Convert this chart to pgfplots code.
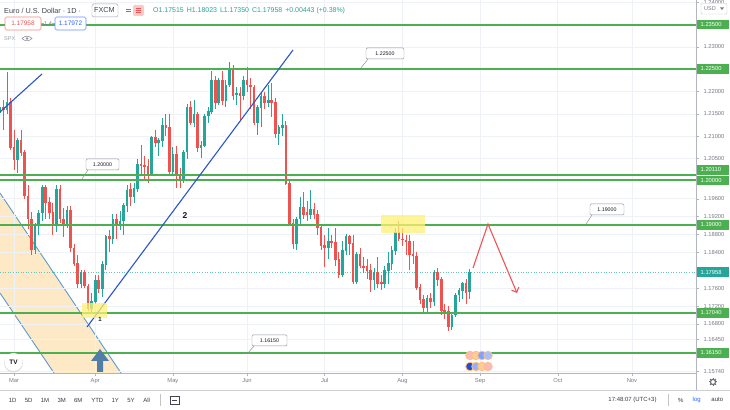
\documentclass[border=0pt]{standalone}
\usepackage{pgfplots}
\pgfplotsset{compat=1.18}
\usepackage{pgfplotstable}
\usepackage{fontspec}
\setmainfont{Liberation Sans}
\usetikzlibrary{arrows.meta,calc}
\definecolor{upc}{HTML}{26A69A}
\definecolor{dnc}{HTML}{EF5350}
\definecolor{lvl}{HTML}{4CAF50}
\definecolor{gridc}{HTML}{EEF1F6}
\definecolor{txt}{HTML}{787B86}
\definecolor{dark}{HTML}{131722}
\definecolor{trend}{HTML}{2B55C8}
\definecolor{chan}{HTML}{5B9BD5}
\definecolor{chfill}{HTML}{FDE9C6}
\definecolor{yel}{HTML}{FFF176}
\definecolor{arr}{HTML}{F05454}
\definecolor{axl}{HTML}{B2B5BE}
\definecolor{upar}{HTML}{4F7FA8}
\definecolor{tvblue}{HTML}{2962FF}
\newcommand\fs[1]{\fontsize{#1}{#1}\selectfont}

\pgfplotstableread{
x o h l c
-4 1.2152 1.2190 1.2110 1.2165
-2 1.2160 1.2243 1.2150 1.2175
1 1.2048 1.2095 1.2017 1.2090
6 1.1846 1.1905 1.1836 1.1900
7 1.1900 1.1935 1.1880 1.1928
8 1.1928 1.1990 1.1910 1.1986
12 1.1900 1.1990 1.1885 1.1980
15 1.1905 1.1945 1.1895 1.1935
19 1.1770 1.1800 1.1760 1.1795
22 1.1715 1.1750 1.1704 1.1730
23 1.1730 1.1790 1.1725 1.1778
25 1.1760 1.1820 1.1740 1.1813
26 1.1813 1.1880 1.1800 1.1875
28 1.1870 1.1925 1.1860 1.1915
30 1.1900 1.1932 1.1890 1.1910
31 1.1910 1.1950 1.1880 1.1945
32 1.1945 1.1990 1.1930 1.1980
34 1.1965 1.1995 1.1950 1.1983
35 1.1983 1.2050 1.1975 1.2037
39 1.2015 1.2100 1.2010 1.2097
41 1.2085 1.2095 1.2055 1.2090
42 1.2090 1.2140 1.2075 1.2125
45 1.2020 1.2075 1.2015 1.2060
48 1.2005 1.2070 1.1995 1.2065
49 1.2065 1.2172 1.2050 1.2165
51 1.2130 1.2180 1.2120 1.2150
53 1.2075 1.2090 1.2052 1.2080
54 1.2080 1.2150 1.2075 1.2145
55 1.2145 1.2165 1.2130 1.2155
56 1.2155 1.2245 1.2150 1.2225
58 1.2175 1.2230 1.2170 1.2225
60 1.2180 1.2225 1.2165 1.2215
61 1.2215 1.2266 1.2210 1.2250
63 1.2192 1.2210 1.2170 1.2195
65 1.2190 1.2235 1.2180 1.2225
69 1.2130 1.2170 1.2103 1.2165
70 1.2165 1.2200 1.2120 1.2190
72 1.2175 1.2215 1.2165 1.2180
75 1.2105 1.2125 1.2080 1.2120
76 1.2120 1.2150 1.2100 1.2125
80 1.1860 1.1920 1.1845 1.1915
81 1.1915 1.1964 1.1900 1.1940
84 1.1925 1.1980 1.1915 1.1937
89 1.1850 1.1895 1.1825 1.1865
93 1.1790 1.1865 1.1785 1.1845
94 1.1845 1.1882 1.1835 1.1875
97 1.1775 1.1840 1.1770 1.1835
102 1.1780 1.1805 1.1755 1.1795
105 1.1770 1.1810 1.1760 1.1800
106 1.1800 1.1840 1.1770 1.1815
107 1.1815 1.1855 1.1800 1.1845
108 1.1845 1.1895 1.1835 1.1885
117 1.1717 1.1745 1.1705 1.1738
119 1.1730 1.1800 1.1720 1.1795
124 1.1675 1.1705 1.1667 1.1700
125 1.1700 1.1750 1.1695 1.1745
126 1.1745 1.1760 1.1730 1.1755
127 1.1755 1.1775 1.1735 1.1770
129 1.17515 1.18023 1.17350 1.17958
}\upt

\pgfplotstableread{
x o h l c
-3 1.2165 1.2182 1.2114 1.2160
-1 1.2175 1.2185 1.2070 1.2075
0 1.2075 1.2113 1.2024 1.2048
2 1.2090 1.2114 1.2055 1.2063
3 1.2063 1.2070 1.1960 1.1966
4 1.1966 1.1990 1.1893 1.1915
5 1.1915 1.1930 1.1835 1.1846
9 1.1986 1.1990 1.1915 1.1952
10 1.1952 1.1965 1.1915 1.1930
11 1.1930 1.1950 1.1880 1.1900
13 1.1980 1.1990 1.1905 1.1915
14 1.1915 1.1940 1.1875 1.1905
16 1.1935 1.1945 1.1840 1.1850
17 1.1850 1.1860 1.1810 1.1815
18 1.1815 1.1835 1.1760 1.1770
20 1.1795 1.1800 1.1760 1.1765
21 1.1765 1.1770 1.1710 1.1715
24 1.1778 1.1790 1.1750 1.1760
27 1.1875 1.1890 1.1840 1.1870
29 1.1915 1.1925 1.1870 1.1900
33 1.1980 1.1995 1.1945 1.1965
36 1.2037 1.2080 1.2010 1.2035
37 1.2035 1.2055 1.2000 1.2033
38 1.2033 1.2050 1.1995 1.2015
40 1.2097 1.2115 1.2075 1.2085
43 1.2125 1.2150 1.2100 1.2120
44 1.2120 1.2150 1.2015 1.2020
46 1.2060 1.2077 1.1985 1.2015
47 1.2015 1.2030 1.1985 1.2005
50 1.2165 1.2180 1.2125 1.2130
52 1.2150 1.2155 1.2065 1.2075
57 1.2225 1.2235 1.2160 1.2175
59 1.2225 1.2245 1.2170 1.2180
62 1.2250 1.2260 1.2180 1.2192
64 1.2195 1.2210 1.2133 1.2190
66 1.2225 1.2255 1.2200 1.2215
67 1.2215 1.2230 1.2160 1.2210
68 1.2210 1.2215 1.2125 1.2130
71 1.2190 1.2200 1.2160 1.2175
73 1.2180 1.2218 1.2144 1.2175
74 1.2175 1.2185 1.2095 1.2105
77 1.2125 1.2135 1.1990 1.1995
78 1.1995 1.2000 1.1900 1.1905
79 1.1905 1.1915 1.1847 1.1860
82 1.1940 1.1975 1.1915 1.1925
83 1.1930 1.1955 1.1910 1.1925
85 1.1937 1.1950 1.1915 1.1925
86 1.1925 1.1935 1.1880 1.1895
87 1.1895 1.1900 1.1845 1.1855
88 1.1855 1.1880 1.1808 1.1850
90 1.1865 1.1880 1.1850 1.1862
91 1.1862 1.1895 1.1810 1.1825
92 1.1825 1.1840 1.1782 1.1790
95 1.1875 1.1880 1.1835 1.1860
96 1.1860 1.1880 1.1770 1.1775
98 1.1835 1.1850 1.1805 1.1810
99 1.1810 1.1830 1.1795 1.1805
100 1.1808 1.1825 1.1780 1.1800
101 1.1800 1.1815 1.1752 1.1780
103 1.1795 1.1830 1.1760 1.1770
104 1.1772 1.1790 1.1755 1.1770
109 1.1885 1.1910 1.1865 1.1870
110 1.1870 1.1895 1.1855 1.1868
111 1.1868 1.1880 1.1835 1.1865
112 1.1865 1.1880 1.1800 1.1835
113 1.1835 1.1865 1.1815 1.1832
114 1.1832 1.1840 1.1755 1.1762
115 1.1762 1.1770 1.1725 1.1735
116 1.1735 1.1745 1.1705 1.1717
118 1.1738 1.1750 1.1715 1.1730
120 1.1795 1.1805 1.1765 1.1780
121 1.1780 1.1785 1.1700 1.1710
122 1.1710 1.1725 1.1690 1.1708
123 1.1708 1.1720 1.1664 1.1675
128 1.1770 1.1780 1.1725 1.1751
}\dnt

\pgfplotsset{
  candle/.style 2 args={draw=none, mark=none, forget plot,
    error bars/.cd, y dir=both, y explicit, error mark=none,
    error bar style={draw=#1, line width=#2}},
}

\begin{document}
\begin{tikzpicture}
\useasboundingbox (0,0) rectangle (730bp,410bp);
\fill[white] (0,0) rectangle (730bp,410bp);
% background drawings (channel)
\begin{scope}[shift={(0bp,410bp)}, x=1bp, y=-1bp]
  \fill[chfill] (0,193) -- (121,373) -- (54,373) -- (0,293) -- cycle;
  \draw[chan, line width=0.9bp] (0,193) -- (121,373);
  \draw[chan, line width=0.9bp] (0,293) -- (54,373);
\end{scope}

\begin{axis}[
  at={(0bp,37bp)}, anchor=south west,
  scale only axis, width=696bp, height=373bp,
  xmin=-3.965, xmax=193.15, ymin=1.157018, ymax=1.240482,
  clip=false,
  axis x line*=bottom, axis y line*=right,
  axis line style={draw=none},
  tick align=outside, major tick length=3bp,
  tick style={axl, line width=0.5pt},
  ytick={1.24,1.23,1.22,1.215,1.21,1.205,1.196,1.192,1.188,1.184,1.176,1.172,1.168,1.1645,1.1574},
  yticklabels={1.24000,1.23000,1.22000,1.21500,1.21000,1.20500,1.19600,1.19200,1.18800,1.18400,1.17600,1.17200,1.16800,1.16450,1.15740},
  xtick={0,23,45,66,88,110,132,154,175},
  xticklabels={Mar,Apr,May,Jun,Jul,Aug,Sep,Oct,Nov},
  scaled y ticks=false,
  /pgf/number format/assume math mode=true,
  yticklabel style={font=\fs{5.8}, text=txt, xshift=1pt},
  xticklabel style={font=\fs{5.8}, text=txt, yshift=1pt},
  grid=major, major grid style={gridc, line width=0.6pt},
]
% current price line
\draw[upc!70, dotted, line width=0.6pt] (axis cs:-3.965,1.17958) -- (axis cs:193.15,1.17958);
% wicks
\addplot[candle={upc}{0.8bp}]
  table[x=x, y expr={(\thisrow{h}+\thisrow{l})/2}, y error expr={(\thisrow{h}-\thisrow{l})/2}] {\upt};
\addplot[candle={dnc}{0.8bp}]
  table[x=x, y expr={(\thisrow{h}+\thisrow{l})/2}, y error expr={(\thisrow{h}-\thisrow{l})/2}] {\dnt};
% bodies
\addplot[candle={upc}{2.6bp}]
  table[x=x, y expr={(\thisrow{o}+\thisrow{c})/2}, y error expr={abs(\thisrow{c}-\thisrow{o})/2+0.00008}] {\upt};
\addplot[candle={dnc}{2.6bp}]
  table[x=x, y expr={(\thisrow{o}+\thisrow{c})/2}, y error expr={abs(\thisrow{c}-\thisrow{o})/2+0.00008}] {\dnt};
\end{axis}

\begin{scope}[shift={(0bp,410bp)}, x=1bp, y=-1bp]
  % horizontal levels (1.23500, 1.22500, 1.20110, 1.20000, 1.19000, 1.17040, 1.16150)
  \foreach \yy in {25, 69, 175, 180, 225, 313, 353}{
    \draw[lvl, line width=1.8bp] (0,\yy) -- (696,\yy);
  }
  % axis frame lines
  \draw[axl, line width=1bp] (0,373.5) -- (696,373.5);
  \draw[axl, line width=1bp] (696.5,0) -- (696.5,390);
  \draw[gridc!70!gray, line width=0.6bp] (0,390.5) -- (730,390.5);
  % trend lines
  \draw[trend, line width=1.1pt] (0,112) -- (42,74);
  \draw[trend, line width=1.1pt] (87,327) -- (293,50);
  % yellow boxes
  \fill[yel, fill opacity=0.75] (82,303) rectangle (107,318);
  \fill[yel, fill opacity=0.75] (381,215) rectangle (425,233);
  % labels 1 and 2
  \node[font=\bfseries\fs{6}, text=dark] at (100,319) {1};
  \node[font=\bfseries\fs{8.5}, text=dark] at (185,216) {2};
  % red arrow
  \draw[arr, line width=1.1pt, -{Straight Barb[length=4pt,width=8pt]}] (473,268) -- (488,224) -- (517,293);
  % blue up arrow
  \fill[upar] (91,361) -- (100,349) -- (109,361) -- (103,361) -- (103,372) -- (97,372) -- (97,361) -- cycle;
  % callout boxes
  \foreach \xa/\ya/\xb/\yb/\t in {366/48/404/59/1.22500, 86/159/119/170/1.20000, 590/204/624/215/1.19000, 252/335/287/346/1.16150}{
    \draw[txt!80, fill=white, rounded corners=1.2pt, line width=0.5pt] (\xa,\ya) rectangle (\xb,\yb);
    \node[font=\fs{5.3}, text=dark] at ({(\xa+\xb)/2},{(\ya+\yb)/2}) {\t};
  }
  \draw[txt!80, line width=0.5pt] (368,59) -- (361,68);
  \draw[txt!80, line width=0.5pt] (88,170) -- (82,179);
  \draw[txt!80, line width=0.5pt] (592,215) -- (586,224);
  \draw[txt!80, line width=0.5pt] (254,346) -- (248,353);
  % right price labels
  \foreach \yy/\t in {24.5/1.23500, 69/1.22500, 170/1.20110, 180.5/1.20000, 225/1.19000, 313/1.17040, 353/1.16150}{
    \fill[lvl] (697,\yy-4.6) rectangle (729,\yy+4.6);
    \node[font=\fs{5.8}, text=white, anchor=west, inner sep=0pt] at (700.5,\yy) {\t};
  }
  \fill[upc] (697,267.5) rectangle (729,276.7);
  \node[font=\fs{5.8}, text=white, anchor=west, inner sep=0pt] at (700.5,272.1) {1.17958};
  % USD box
  \fill[white] (701,3.5) rectangle (727,14);
  \draw[gridc!60!gray, rounded corners=1pt, line width=0.4pt] (701,3.5) rectangle (727,14);
  \node[font=\fs{5.5}, text=txt, anchor=west, inner sep=0pt] at (704,8.8) {USD};
  \fill[txt] (720,7.5) -- (724,7.5) -- (722,10) -- cycle;
  % header
  \node[font=\fs{7.3}, text=dark!80, anchor=west, inner sep=0pt] at (4,10.5) {Euro / U.S. Dollar · 1D ·};
  \draw[txt!70, rounded corners=1.5pt, line width=0.5pt] (92,4) rectangle (118,17);
  \node[font=\fs{7.3}, text=dark!80, anchor=west, inner sep=0pt] at (94,10.5) {FXCM};
  \draw[txt, line width=0.7pt] (126,9) -- (131,9);
  \draw[txt, line width=0.7pt] (126,11.5) -- (131,11.5);
  \fill[dnc!30, rounded corners=1.5pt] (133,5) rectangle (144,16);
  \draw[dnc, line width=0.6pt] (136,8.5) -- (141,8.5) (136,10.5) -- (141,10.5) (136,12.5) -- (141,12.5);
  \node[font=\fs{7}, text=upc, anchor=west, inner sep=0pt] at (153,10.5) {O1.17515\hspace{3pt}H1.18023\hspace{3pt}L1.17350\hspace{3pt}C1.17958\hspace{3pt}+0.00443 (+0.38\%)};
  % row 2
  \draw[dnc!70, fill=white, rounded corners=1.5pt, line width=0.6pt] (5,17) rectangle (41,30);
  \node[font=\fs{6.5}, text=dnc] at (23,23.5) {1.17958};
  \draw[txt!60, line width=0.4pt] (41,23.5) -- (44,23.5) (52,23.5) -- (55,23.5);
  \node[font=\fs{5.5}, text=txt] at (48,23.5) {1.4};
  \draw[tvblue!70, fill=white, rounded corners=1.5pt, line width=0.6pt] (55,17) rectangle (86,30);
  \node[font=\fs{6.5}, text=tvblue] at (70.5,23.5) {1.17972};
  % row 3
  \node[font=\fs{5.5}, text=txt!70, anchor=west, inner sep=0pt] at (4,38.5) {SPX};
  \draw[txt!80, line width=0.6pt] (22,38.5) .. controls (24.5,35.5) and (29.5,35.5) .. (32,38.5) .. controls (29.5,41.5) and (24.5,41.5) .. (22,38.5);
  \fill[txt!80] (27,38.5) circle (1.3);
  % TV logo
  \fill[gray!25] (13.5,363) circle (9.5);
  \fill[white] (13.5,362) circle (9);
  \node[font=\bfseries\fs{6.5}, text=dark] at (13.5,362) {TV};
  % event icons
  \foreach \xx/\cc in {470/dnc!40, 476/orange!40, 482/tvblue!60, 488/tvblue!40}{
    \draw[orange!50, fill=\cc, line width=0.8pt] (\xx,355.5) circle (4.3);
  }
  \foreach \xx/\cc in {470/tvblue!80!black, 476/tvblue!50, 482/orange!40, 488/dnc!40}{
    \draw[orange!50, fill=\cc, line width=0.8pt] (\xx,366.5) circle (4.3);
  }
  % gear
  \draw[txt!90!black, line width=1.2pt] (713,382) circle (2.6);
  \foreach \a in {0,45,...,315}{\draw[txt!90!black, line width=1pt] ($(713,382)+(\a:2.8)$) -- ($(713,382)+(\a:4.1)$);}
  % bottom toolbar
  \foreach \xx/\t in {12.7/1D, 28.7/5D, 45/1M, 61.7/3M, 78.3/6M, 97.3/YTD, 115.3/1Y, 131/5Y, 146.7/All}{
    \node[font=\fs{6}, text=dark!85] at (\xx,400) {\t};
  }
  \draw[gridc!60!gray, line width=0.5pt] (160.7,394) -- (160.7,406);
  \draw[dark!80, line width=0.6pt] (170,396) rectangle (179,404);
  \draw[dark!80, line width=0.6pt] (172,400) -- (177,400);
  \node[font=\fs{6}, text=dark!85] at (632.5,400) {17:48:07 (UTC+3)};
  \draw[gridc!60!gray, line width=0.5pt] (668,394) -- (668,406);
  \node[font=\fs{6}, text=dark!85] at (680.7,400) {\%};
  \node[font=\fs{6}, text=tvblue] at (696.7,400) {log};
  \node[font=\fs{6}, text=dark!85] at (717.3,400) {auto};
\end{scope}
\end{tikzpicture}
\end{document}
